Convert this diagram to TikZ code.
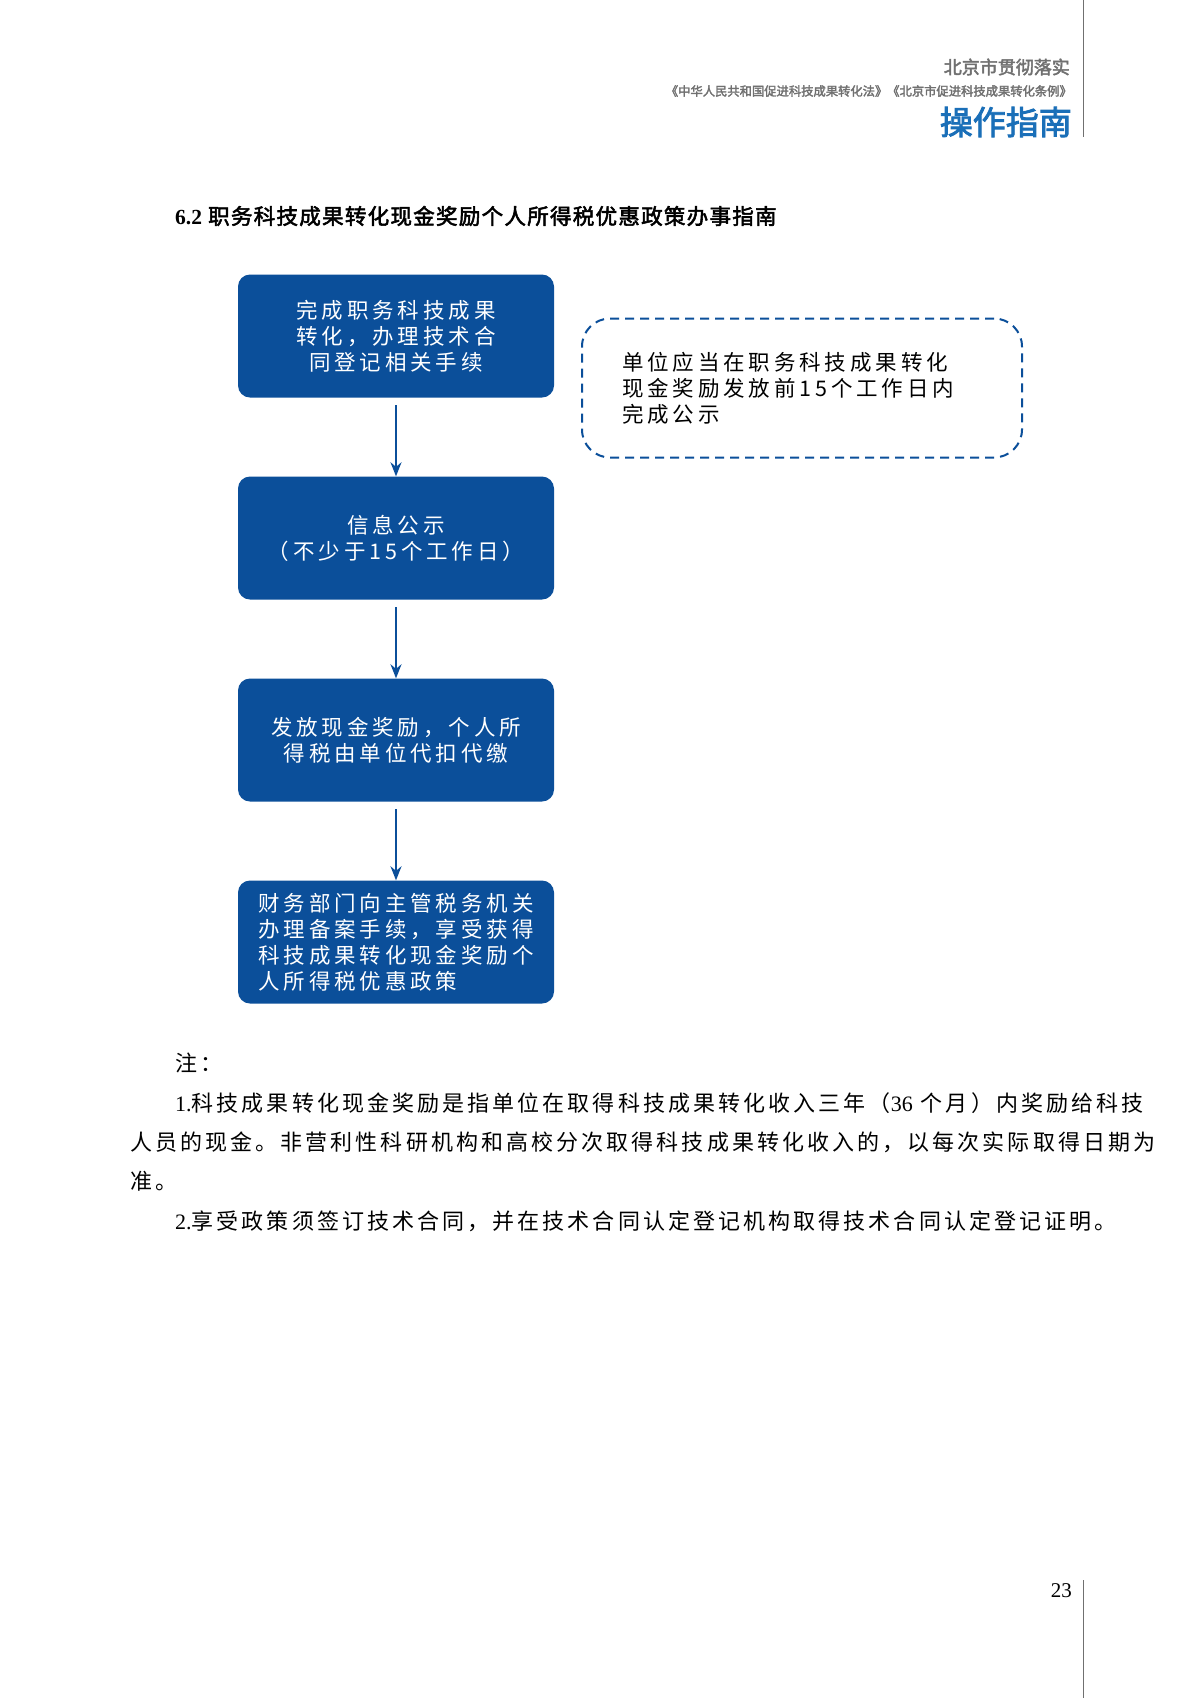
\documentclass[tikz,border=0pt]{standalone}
\usepackage{fontspec}
\usetikzlibrary{arrows.meta}
\setmainfont{Noto Sans CJK SC}[AutoFakeBold=2.5]
\newfontfamily\serifnum{Liberation Serif}
\newcommand{\wide}{\addfontfeature{LetterSpace=18}}
\definecolor{boxblue}{HTML}{0B4F9A}
\definecolor{headblue}{HTML}{1A6FB8}
\definecolor{headgray}{HTML}{707070}
\begin{document}
\begin{tikzpicture}[x=1pt,y=-1pt,
  stepbox/.style={draw=none,fill=boxblue,rounded corners=12pt,minimum width=316pt,minimum height=123pt,text=white,font=\fontsize{21.5}{26}\selectfont\wide,align=center,inner sep=4pt},
  arr/.style={draw=boxblue,line width=2pt,-{Stealth[length=14pt,width=11pt]}},
  notetext/.style={anchor=west,font=\fontsize{22}{26}\selectfont\addfontfeature{LetterSpace=14},inner sep=0pt}]
\useasboundingbox (0,0) rectangle (1200,1698);
\fill[white] (0,0) rectangle (1200,1698);
% header
\draw[headgray,line width=1pt] (1083,0) -- (1083,137);
\draw[headgray,line width=1pt] (1083,1580) -- (1083,1698);
\node[anchor=east,text=headgray,font=\bfseries\fontsize{18}{20}\selectfont,inner sep=0pt] (h1) at (1070,67) {北京市贯彻落实};
\node[anchor=east,text=headgray,font=\bfseries\fontsize{12.3}{14}\selectfont,inner sep=0pt] (h2) at (1072,91) {《中华人民共和国促进科技成果转化法》《北京市促进科技成果转化条例》};
\node[anchor=east,text=headblue,font=\bfseries\fontsize{33}{36}\selectfont,inner sep=0pt] (h3) at (1072,122) {操作指南};
% title
\node[anchor=west,font=\bfseries\fontsize{21.5}{24}\selectfont\addfontfeature{LetterSpace=6},inner sep=0pt] (title) at (175,216) {{\serifnum 6.2} 职务科技成果转化现金奖励个人所得税优惠政策办事指南};
% boxes
\node[stepbox] (b1) at (396,336) {完成职务科技成果\\转化，办理技术合\\同登记相关手续};
\node[stepbox] (b2) at (396,538) {信息公示\\（不少于15个工作日）};
\node[stepbox] (b3) at (396,740) {发放现金奖励，个人所\\得税由单位代扣代缴};
\node[stepbox,align=left] (b4) at (396,942) {财务部门向主管税务机关\\办理备案手续，享受获得\\科技成果转化现金奖励个\\人所得税优惠政策};
\draw[arr] (396,405) -- (b2.north);
\draw[arr] (396,607) -- (b3.north);
\draw[arr] (396,809) -- (b4.north);
% dashed note
\node[draw=boxblue,line width=2pt,dash pattern=on 9pt off 6pt,rounded corners=28pt,minimum width=440pt,minimum height=139pt,text width=360pt,align=left,font=\fontsize{21.5}{26}\selectfont\wide] (d) at (802,388) {单位应当在职务科技成果转化\\现金奖励发放前15个工作日内\\完成公示};
% notes
\node[notetext] (n0) at (175,1063) {注：};
\node[notetext] (n1) at (175,1103) {{\serifnum 1.}科技成果转化现金奖励是指单位在取得科技成果转化收入三年（{\serifnum 36} 个月）内奖励给科技};
\node[notetext] (n2) at (130,1142) {人员的现金。非营利性科研机构和高校分次取得科技成果转化收入的，以每次实际取得日期为};
\node[notetext] (n3) at (130,1181) {准。};
\node[notetext] (n4) at (175,1221) {{\serifnum 2.}享受政策须签订技术合同，并在技术合同认定登记机构取得技术合同认定登记证明。};
\node[anchor=east,font=\serifnum\fontsize{21}{24}\selectfont,inner sep=0pt] (pg) at (1072,1591) {23};
\end{tikzpicture}
\end{document}
